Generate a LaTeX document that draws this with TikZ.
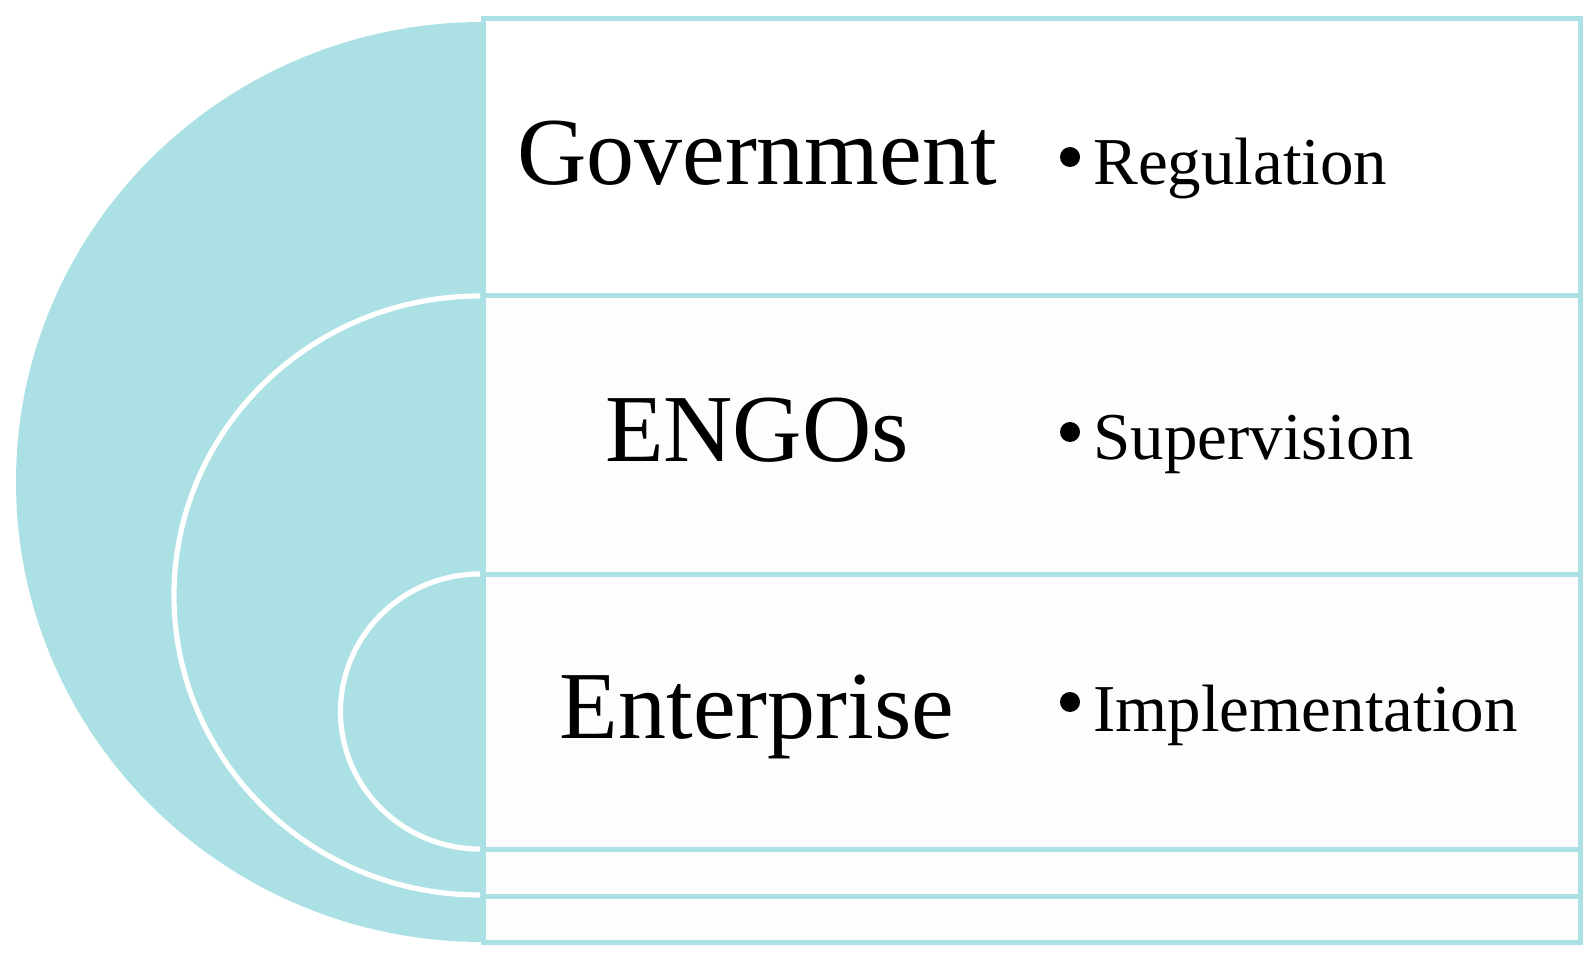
\documentclass[tikz,border=0pt]{standalone}
\usepackage{fontspec}
\setmainfont{Liberation Serif}
\definecolor{lightteal}{RGB}{171,224,228}

\begin{document}
\begin{tikzpicture}[x=0.5pt,y=0.5pt,
  rowbox/.style={draw=lightteal, line width=2.5pt, fill=black!0.6},
  whitearc/.style={draw=white, line width=2.6pt},
  actor/.style={anchor=base, inner sep=0pt, font=\fontsize{48}{55}\selectfont},
  task/.style={anchor=base west, inner sep=0pt, font=\fontsize{33.5}{40}\selectfont},
  bulletdot/.style={circle, fill=black, inner sep=0pt, minimum size=10pt}]
\useasboundingbox (0,0) rectangle (1596,960);
\def\halfP{(483,938) arc[start angle=90, end angle=270, x radius=467, y radius=460] -- cycle}
\def\arcMid{(480,664) arc[start angle=90, end angle=270, x radius=306, y radius=299.5]}
\def\arcIn{(480,386) arc[start angle=90, end angle=270, x radius=139.5, y radius=137.5]}
%
\fill[lightteal] \halfP;
\draw[whitearc] \arcMid;
\draw[whitearc] \arcIn;
%
\draw[rowbox, fill=white] (483,941) rectangle (1580,664);
\draw[rowbox] (483,664) rectangle (1580,386);
\draw[rowbox] (483,386) rectangle (1580,111);
\draw[rowbox] (483,111) rectangle (1580,64);
\draw[rowbox] (483,64) rectangle (1580,18);
%
\node[actor] (gov) at (757,775) {Government};
\node[actor] (ngo) at (757,498) {ENGOs};
\node[actor] (ent) at (757,222) {Enterprise};
%
\node[bulletdot] (b1) at (1070,803) {};
\node[task] (reg) at (1093,775) {Regulation};
\node[bulletdot] (b2) at (1070,528) {};
\node[task] (sup) at (1093,500) {Supervision};
\node[bulletdot] (b3) at (1070,258) {};
\node[task] (imp) at (1093,229) {Implementation};
\end{tikzpicture}
\end{document}
